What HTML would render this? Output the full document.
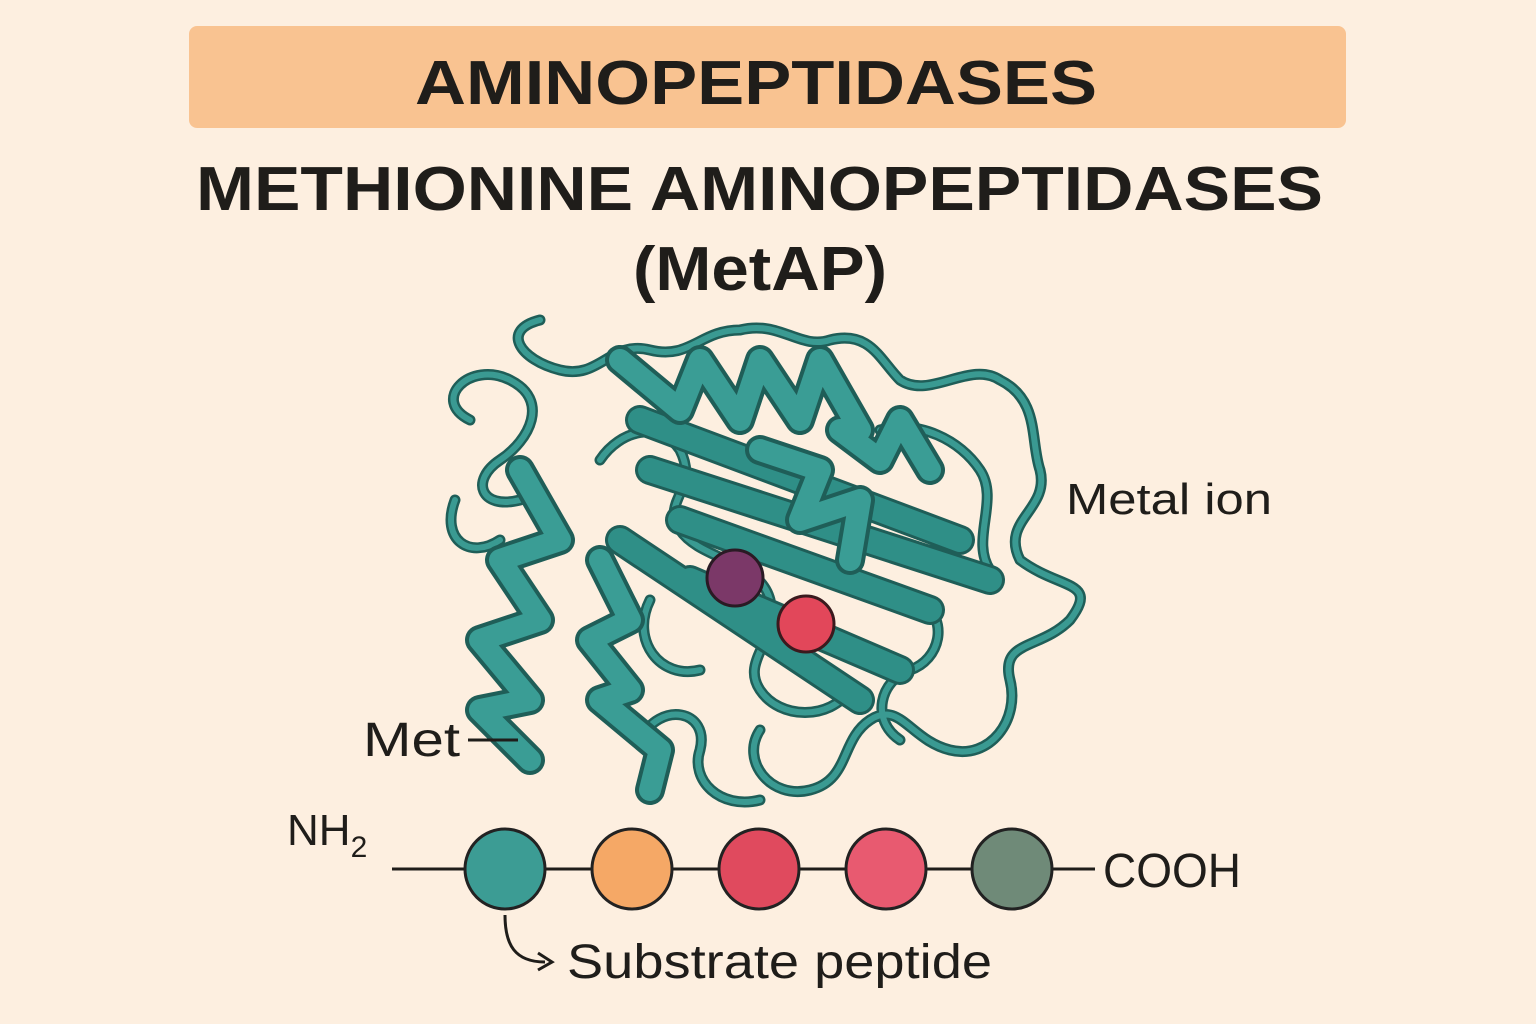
<!DOCTYPE html>
<html><head><meta charset="utf-8"><style>
html,body{margin:0;padding:0;background:#fdefe0;}
svg{display:block;font-family:"Liberation Sans",sans-serif;}
</style></head><body>
<svg width="1536" height="1024" viewBox="0 0 1536 1024">
<rect width="1536" height="1024" fill="#fdefe0"/>
<rect x="189" y="26" width="1157" height="102" rx="8" fill="#f9c391"/>
<text x="415" y="104" font-size="62" font-weight="bold" fill="#1f1d1a" textLength="682" lengthAdjust="spacingAndGlyphs">AMINOPEPTIDASES</text>
<text x="196" y="210" font-size="62" font-weight="bold" fill="#1f1d1a" textLength="1127" lengthAdjust="spacingAndGlyphs">METHIONINE AMINOPEPTIDASES</text>
<text x="633" y="290" font-size="62" font-weight="bold" fill="#1f1d1a" textLength="254" lengthAdjust="spacingAndGlyphs">(MetAP)</text>

<g stroke-linecap="round" stroke-linejoin="round" fill="none">
 <g>
  <path d="M540,320 C500,330 520,360 560,370 C600,380 610,340 650,350 C690,360 700,330 740,330 C780,320 800,350 830,340 C870,330 880,360 900,380 C930,400 970,360 1000,380 C1040,400 1030,440 1040,470 C1050,510 1000,520 1020,560 C1060,590 1100,580 1070,620 C1040,650 1000,640 1010,680 C1020,720 990,760 950,750 C910,740 900,700 870,720 C840,740 850,780 810,790 C770,800 740,760 760,730 M470,420 C430,400 470,360 510,380 C550,400 530,440 500,460 C470,480 480,510 520,500 M760,800 C720,810 690,780 700,750 C710,710 660,700 640,740 M600,460 C620,430 660,420 680,450 C700,490 660,500 680,530 C700,560 760,560 770,600 C780,640 740,660 760,690 C780,720 830,720 850,690 M880,430 C920,420 960,440 980,470 C1000,500 970,540 990,570 M650,600 C630,640 660,680 700,670 M920,600 C950,620 940,660 910,670 C880,680 870,720 900,740 M455,500 C440,540 470,560 500,540" stroke="#1f5e58" stroke-width="11"/>
  <path d="M540,320 C500,330 520,360 560,370 C600,380 610,340 650,350 C690,360 700,330 740,330 C780,320 800,350 830,340 C870,330 880,360 900,380 C930,400 970,360 1000,380 C1040,400 1030,440 1040,470 C1050,510 1000,520 1020,560 C1060,590 1100,580 1070,620 C1040,650 1000,640 1010,680 C1020,720 990,760 950,750 C910,740 900,700 870,720 C840,740 850,780 810,790 C770,800 740,760 760,730 M470,420 C430,400 470,360 510,380 C550,400 530,440 500,460 C470,480 480,510 520,500 M760,800 C720,810 690,780 700,750 C710,710 660,700 640,740 M600,460 C620,430 660,420 680,450 C700,490 660,500 680,530 C700,560 760,560 770,600 C780,640 740,660 760,690 C780,720 830,720 850,690 M880,430 C920,420 960,440 980,470 C1000,500 970,540 990,570 M650,600 C630,640 660,680 700,670 M920,600 C950,620 940,660 910,670 C880,680 870,720 900,740 M455,500 C440,540 470,560 500,540" stroke="#3a9a92" stroke-width="6"/>
 </g>
 <g>
  <path d="M640,420 L960,540 M650,470 L990,580 M680,520 L930,610 M690,580 L900,670 M620,540 L860,700" stroke="#1f5e58" stroke-width="30"/>
  <path d="M640,420 L960,540 M650,470 L990,580 M680,520 L930,610 M690,580 L900,670 M620,540 L860,700" stroke="#2f8f87" stroke-width="24"/>
 </g>
 <g>
  <path d="M520,470 L560,540 L500,560 L540,620 L480,640 L530,700 L480,710 L530,760 M600,560 L630,620 L590,640 L630,690 L600,700 L660,750 L650,790 M620,360 L680,410 L700,360 L740,420 L760,360 L800,420 L820,360 L860,430 M760,450 L820,470 L800,520 L860,500 L850,560 M840,430 L880,460 L900,420 L930,470" stroke="#1f5e58" stroke-width="30"/>
  <path d="M520,470 L560,540 L500,560 L540,620 L480,640 L530,700 L480,710 L530,760 M600,560 L630,620 L590,640 L630,690 L600,700 L660,750 L650,790 M620,360 L680,410 L700,360 L740,420 L760,360 L800,420 L820,360 L860,430 M760,450 L820,470 L800,520 L860,500 L850,560 M840,430 L880,460 L900,420 L930,470" stroke="#3a9d95" stroke-width="22"/>
 </g>
</g>
<circle cx="735" cy="578" r="28" fill="#7b3868" stroke="#2a1a24" stroke-width="3"/>
<circle cx="806" cy="624" r="28" fill="#e2475a" stroke="#3a1a1e" stroke-width="3"/>
<text x="1066" y="514" font-size="44" fill="#1f1d1a" textLength="206" lengthAdjust="spacingAndGlyphs">Metal ion</text>
<text x="363" y="756" font-size="48" fill="#1f1d1a" textLength="97" lengthAdjust="spacingAndGlyphs">Met</text>
<line x1="468" y1="740" x2="518" y2="740" stroke="#1f1d1a" stroke-width="3"/>

<g>
 <line x1="392" y1="869" x2="1095" y2="869" stroke="#1f1d1a" stroke-width="3"/>
 <circle cx="505" cy="869" r="40" fill="#3c9c94" stroke="#222" stroke-width="3"/>
 <circle cx="632" cy="869" r="40" fill="#f5a866" stroke="#222" stroke-width="3"/>
 <circle cx="759" cy="869" r="40" fill="#e04a5e" stroke="#222" stroke-width="3"/>
 <circle cx="886" cy="869" r="40" fill="#e85a70" stroke="#222" stroke-width="3"/>
 <circle cx="1012" cy="869" r="40" fill="#6f8a78" stroke="#222" stroke-width="3"/>
</g>
<text x="287" y="845" font-size="44" fill="#1f1d1a">NH<tspan font-size="30" dy="12">2</tspan></text>
<text x="1103" y="887" font-size="48" fill="#1f1d1a" textLength="138" lengthAdjust="spacingAndGlyphs">COOH</text>
<path d="M505,915 C505,945 515,962 545,962" stroke="#1f1d1a" stroke-width="3" fill="none"/>
<path d="M538,953 L552,962 L538,970" stroke="#1f1d1a" stroke-width="3" fill="none"/>
<text x="567" y="978" font-size="48" fill="#1f1d1a" textLength="425" lengthAdjust="spacingAndGlyphs">Substrate peptide</text>
</svg>
</body></html>
